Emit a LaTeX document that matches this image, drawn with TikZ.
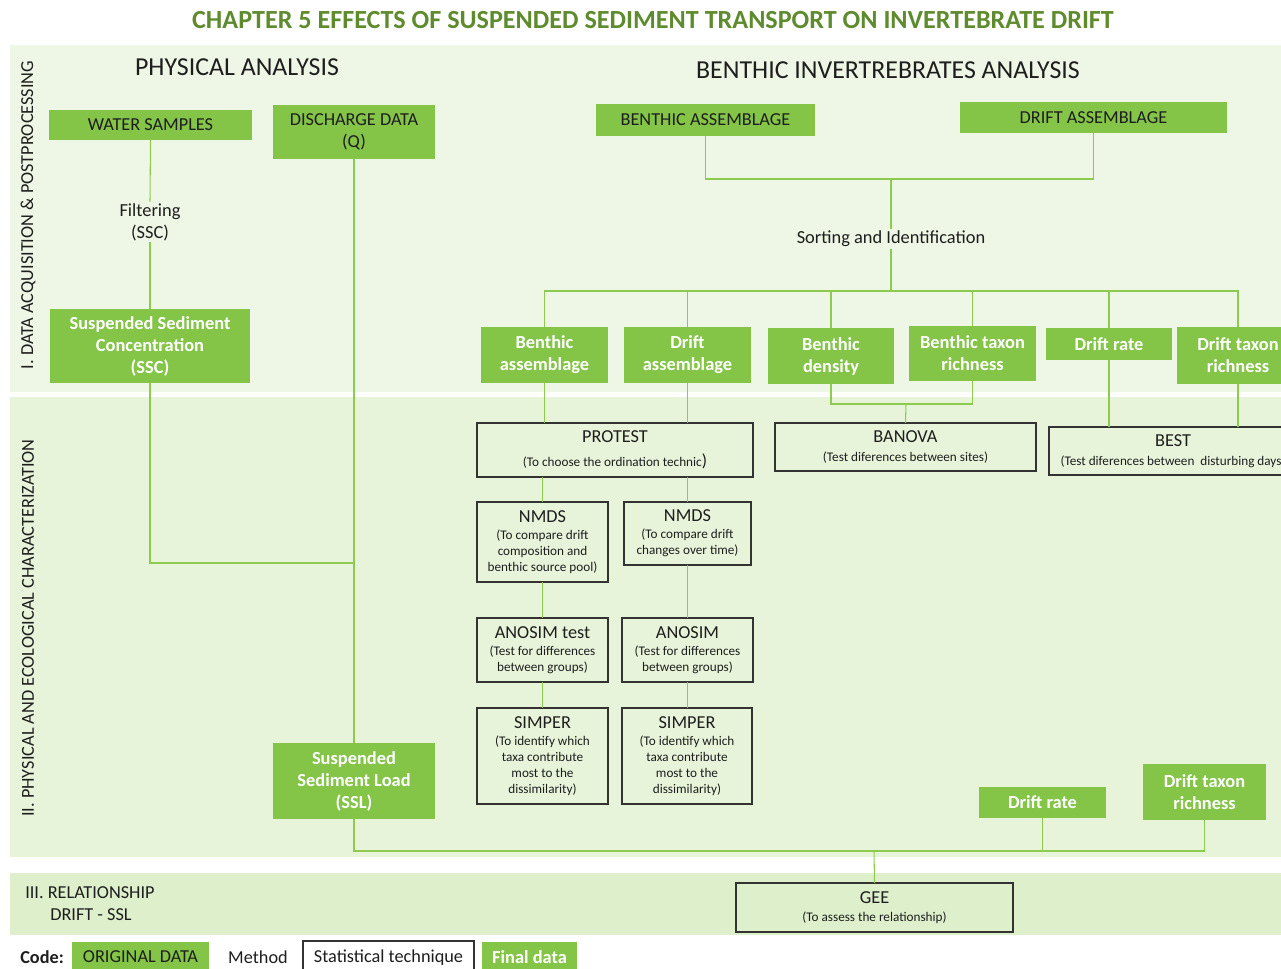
\documentclass[tikz,border=0pt]{standalone}
\usepackage{fontspec}
\setmainfont{Carlito}
\definecolor{boxg}{HTML}{84C447}
\definecolor{titleg}{HTML}{5F8B2F}
\definecolor{bandA}{HTML}{EEF7E5}
\definecolor{bandB}{HTML}{E7F4DA}
\definecolor{bandC}{HTML}{DDEFCB}
\definecolor{lineg}{HTML}{8DCB4E}
\definecolor{darktxt}{HTML}{1E1E1E}
\definecolor{statline}{HTML}{333333}
\newcommand\fsz[2]{\fontsize{#1}{#2}\selectfont}
\newcommand\bx[7]{\node[#2, minimum width={(#5-#3)*0.75pt}, minimum height={(#6-#4)*0.75pt}] (#1) at ({(#3+#5)/2},{(#4+#6)/2}) {#7};}
\tikzset{
  orig/.style={fill=boxg, text=darktxt, inner sep=0pt, outer sep=0pt, align=center, font=\fsz{13.7}{16.5}},
  fin/.style={fill=boxg, text=white, inner sep=0pt, outer sep=0pt, align=center, font=\fsz{13.8}{16.5}\bfseries},
  stat/.style={draw=statline, line width=1pt, inner sep=0pt, outer sep=0pt, align=center, text=darktxt, font=\fsz{9.9}{12}},
  meth/.style={text=darktxt, align=center, inner sep=1pt, font=\fsz{13.8}{16.5}},
  conn/.style={draw=lineg, line width=0.8pt},
  head/.style={text=darktxt, inner sep=0pt, font=\fsz{19.4}{22}},
  vlab/.style={text=darktxt, rotate=90, inner sep=0pt, font=\fsz{13.7}{15}},
  sttl/.style={}
}
\newcommand\stt[1]{{\fsz{13.7}{15}#1}}
\begin{document}
\begin{tikzpicture}[x=0.75pt,y=-0.75pt]
\useasboundingbox (0,0) rectangle (1281,969);
\clip (0,0) rectangle (1281,969);
% bands
\fill[bandA] (10,45) rectangle (1281,392);
\fill[bandB] (10,397) rectangle (1281,857);
\fill[bandC] (10,873) rectangle (1281,935);
% title and headings
\node[text=titleg, font=\fsz{19.6}{22}\bfseries, inner sep=0pt] (title) at (653,20) {CHAPTER 5 EFFECTS OF SUSPENDED SEDIMENT TRANSPORT ON INVERTEBRATE DRIFT};
\node[head] (phys) at (237,67) {PHYSICAL ANALYSIS};
\node[head] (bent) at (888,70) {BENTHIC INVERTREBRATES ANALYSIS};
\node[vlab] (lab1) at (28,215) {I. DATA ACQUISITION \& POSTPROCESSING};
\node[vlab] (lab2) at (28,628) {II. PHYSICAL AND ECOLOGICAL CHARACTERIZATION};
\node[text=darktxt, anchor=west, inner sep=0pt, font=\fsz{13.7}{15}] (lab3a) at (25,893) {III. RELATIONSHIP};
\node[text=darktxt, anchor=west, inner sep=0pt, font=\fsz{13.7}{15}] (lab3b) at (50,915) {DRIFT - SSL};
% original data
\bx{ws}{orig}{49}{110}{252}{140}{WATER SAMPLES}
\bx{dd}{orig}{273}{105}{435}{159}{DISCHARGE DATA\\(Q)}
\bx{ba}{orig}{596}{104}{815}{136}{BENTHIC ASSEMBLAGE}
\bx{da}{orig}{960}{102}{1227}{133}{DRIFT ASSEMBLAGE}
% methods
\node[meth] (filt) at (150,222) {Filtering\\(SSC)};
\node[meth] (sort) at (891,239) {Sorting and Identification};
% final data
\bx{ssc}{fin}{50}{309}{250}{383}{Suspended Sediment\\Concentration\\(SSC)}
\bx{fba}{fin}{481}{327}{608}{383}{Benthic\\assemblage}
\bx{fda}{fin}{624}{327}{751}{383}{Drift\\assemblage}
\bx{fbd}{fin}{768}{328}{894}{384}{Benthic\\density}
\bx{fbt}{fin}{909}{326}{1036}{381}{Benthic taxon\\richness}
\bx{fdr}{fin}{1046}{328}{1172}{360}{Drift rate}
\bx{fdt}{fin}{1177}{327}{1299}{384}{Drift taxon\\richness}
\bx{ssl}{fin}{273}{743}{435}{819}{Suspended\\Sediment Load\\(SSL)}
\bx{fdr2}{fin}{979}{787}{1106}{818}{Drift rate}
\bx{fdt2}{fin}{1143}{764}{1266}{820}{Drift taxon\\richness}
% statistical techniques
\bx{protest}{stat}{477}{423}{753}{477}{\stt{PROTEST}\\[6pt](To choose the ordination technic{\fsz{13}{12})}}
\bx{banova}{stat}{775}{423}{1036}{471}{\stt{BANOVA}\\[2pt](Test diferences between sites)}
\bx{best}{stat}{1049}{427}{1297}{475}{\stt{BEST}\\[2pt](Test diferences between~ disturbing days)}
\bx{nmds1}{stat}{477}{502}{608}{582}{\stt{NMDS}\\[1pt](To compare drift\\composition and\\benthic source pool)}
\bx{nmds2}{stat}{624}{502}{751}{565}{\stt{NMDS}\\[1pt](To compare drift\\changes over time)}
\bx{anos1}{stat}{477}{618}{608}{682}{\stt{ANOSIM test}\\[1pt](Test for differences\\between groups)}
\bx{anos2}{stat}{622}{618}{753}{682}{\stt{ANOSIM}\\[1pt](Test for differences\\between groups)}
\bx{simp1}{stat}{477}{708}{608}{804}{\stt{SIMPER}\\[1pt](To identify which\\taxa contribute\\most to the\\dissimilarity)}
\bx{simp2}{stat}{622}{708}{752}{804}{\stt{SIMPER}\\[1pt](To identify which\\taxa contribute\\most to the\\dissimilarity)}
\bx{gee}{stat}{736}{883}{1013}{932}{\stt{GEE}\\[2pt](To assess the relationship)}
% connector junctions
\coordinate (j1) at (354,563);
\coordinate (h1) at (891,179);
\coordinate (h2) at (891,291);
\coordinate (h3) at (874,851);
\coordinate (h4) at (906,404);
% connectors: physical
\draw[conn] (ws.south) -- (filt.north);
\draw[conn] (filt.south) -- (ssc.north);
\draw[conn] (ssc.south) |- (j1);
\draw[conn] (dd.south) -- (ssl.north);
\draw[conn] (ssl.south) |- (h3);
\draw[conn] (fdr2.south) |- (h3);
\draw[conn] (fdt2.south) |- (h3);
\draw[conn] (h3) -- (gee.north);
% connectors: benthic
\draw[conn] (ba.south) |- (h1);
\draw[conn] (da.south) |- (h1);
\draw[conn] (h1) -- (sort.north);
\draw[conn] (sort.south) -- (h2);
\draw[conn] (h2) -| (fba.north);
\draw[conn] (h2) -| (fda.north);
\draw[conn] (h2) -| (fbd.north);
\draw[conn] (h2) -| (fbt.north);
\draw[conn] (h2) -| (fdr.north);
\draw[conn] (h2) -| (fdt.north);
\draw[conn] (fba.south) -- (fba.south |- protest.north);
\draw[conn] (fda.south) -- (fda.south |- protest.north);
\draw[conn] (fbd.south) |- (h4);
\draw[conn] (fbt.south) |- (h4);
\draw[conn] (h4) -- (banova.north);
\draw[conn] (fdr.south) -- (fdr.south |- best.north);
\draw[conn] (fdt.south) -- (fdt.south |- best.north);
\draw[conn] (nmds1.north |- protest.south) -- (nmds1.north);
\draw[conn] (nmds2.north |- protest.south) -- (nmds2.north);
\draw[conn] (nmds1.south) -- (anos1.north);
\draw[conn] (nmds2.south) -- (nmds2.south |- anos2.north);
\draw[conn] (anos1.south) -- (simp1.north);
\draw[conn] (anos2.south) -- (anos2.south |- simp2.north);
% legend
\node[text=darktxt, anchor=west, inner sep=0pt, font=\fsz{13.7}{15}\bfseries] (code) at (20,957) {Code:};
\bx{lgo}{orig}{72}{942}{209}{972}{ORIGINAL DATA}
\node[meth, font=\fsz{13.7}{15}] (lgm) at (258,957) {Method};
\node[draw=statline, line width=1pt, fill=white, text=darktxt, inner sep=0pt, font=\fsz{13.7}{15}, minimum width={171*0.75pt}, minimum height={34*0.75pt}] (lgs) at (388.5,958) {Statistical technique};
\bx{lgf}{fin}{482}{942}{577}{972}{Final data}
\end{tikzpicture}
\end{document}
